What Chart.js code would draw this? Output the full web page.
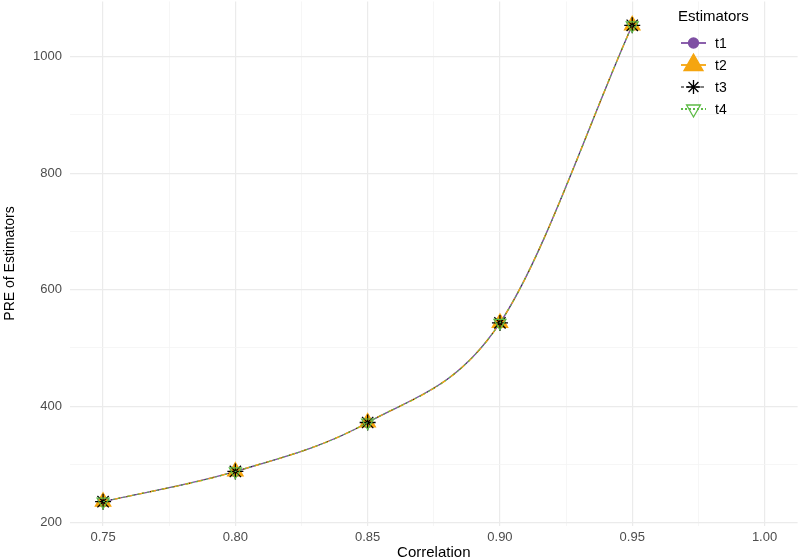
<!DOCTYPE html>
<html>
<head>
<meta charset="utf-8">
<script src="https://cdn.jsdelivr.net/npm/chart.js@4/dist/chart.umd.min.js"></script>
<style>
html,body{margin:0;padding:0;background:#fff;}
#wrap{width:800px;height:560px;position:relative;}
</style>
</head>
<body>
<div id="wrap"><canvas id="c" width="800" height="560"></canvas></div>
<script>
const correlation = [0.75, 0.80, 0.85, 0.90, 0.95];
const t1 = [236, 288, 372, 543, 1054];
const t2 = [236, 288, 372, 543, 1054];
const t3 = [236, 288, 372, 543, 1054];
const t4 = [236, 288, 372, 543, 1054];
const seriesNames = ['t1', 't2', 't3', 't4'];
const xTicks = [0.75, 0.80, 0.85, 0.90, 0.95, 1.00];
const yTicks = [200, 400, 600, 800, 1000];

const FONT = '"Liberation Sans", Arial, Helvetica, sans-serif';
const pts = arr => correlation.map((x, i) => ({x: x, y: arr[i]}));

const styles = [
  {color:'#7E4FA3', point:'circle', radius:5, lr:5, rot:0, fill:'#7E4FA3', dash:[], ldash:[], width:1.4},
  {color:'#F5A50F', point:'triangle', radius:9, lr:11, rot:0, fill:'#F5A50F', dash:[6,6], ldash:[], width:1.4},
  {color:'#000000', point:'star', radius:8, lr:7, rot:0, fill:'rgba(0,0,0,0)', dash:[1,7], ldash:[3,2], width:0.8},
  {color:'#5DBB46', point:'triangle', radius:7, lr:8, rot:180, fill:'rgba(0,0,0,0)', dash:[2,3], ldash:[2,2], width:1.1}
];
const data = [t1, t2, t3, t4];

const datasets = data.map((arr, i) => ({
  label: seriesNames[i],
  data: pts(arr),
  borderColor: styles[i].color,
  backgroundColor: styles[i].fill,
  borderWidth: styles[i].width,
  borderDash: styles[i].dash,
  pointStyle: styles[i].point,
  pointRadius: styles[i].radius,
  pointRotation: styles[i].rot,
  pointBorderColor: styles[i].color,
  pointBackgroundColor: styles[i].fill,
  pointBorderWidth: i === 2 ? 1.3 : 1.2,
  cubicInterpolationMode: 'monotone',
  fill: false,
  clip: false,
  order: 4 - i
}));

const legendPlugin = {
  id: 'ggLegend',
  afterDraw(chart) {
    const ctx = chart.ctx;
    ctx.save();
    ctx.fillStyle = '#000';
    ctx.font = '15px ' + FONT;
    ctx.textAlign = 'left';
    ctx.textBaseline = 'middle';
    ctx.fillText('Estimators', 678, 17);
    const ys = [43, 65, 87, 109];
    styles.forEach((s, i) => {
      const y = ys[i];
      ctx.save();
      ctx.strokeStyle = s.color;
      ctx.lineWidth = i === 2 ? 1 : 1.8;
      ctx.setLineDash(s.ldash);
      ctx.beginPath();
      ctx.moveTo(681, y);
      ctx.lineTo(706, y);
      ctx.stroke();
      ctx.restore();
      ctx.save();
      ctx.strokeStyle = s.color;
      ctx.fillStyle = s.fill;
      ctx.lineWidth = 1.3;
      Chart.helpers.drawPoint(ctx, {pointStyle: s.point, radius: s.lr, rotation: s.rot, borderWidth: 1.3}, 693.5, y);
      ctx.restore();
      ctx.fillStyle = '#000';
      ctx.font = '14px ' + FONT;
      ctx.fillText(seriesNames[i], 715, y + 1);
    });
    ctx.restore();
  }
};

const noPad = function () { return {left: 0, top: 0, right: 0, bottom: 0}; };

new Chart(document.getElementById('c'), {
  type: 'line',
  data: { datasets },
  options: {
    responsive: false,
    animation: false,
    devicePixelRatio: 1,
    layout: { autoPadding: false, padding: { left: 0, right: 2.4, top: 1.4, bottom: 0 } },
    plugins: { legend: { display: false }, tooltip: { enabled: false } },
    scales: {
      x: {
        type: 'linear',
        min: 0.7375,
        max: 1.0125,
        afterFit(scale) { scale.height = 34.4; scale.paddingLeft = 0; scale.paddingRight = 0; scale.getPadding = noPad; },
        afterBuildTicks(scale) {
          const v = [];
          for (let k = 0; k <= 10; k++) v.push(+(0.75 + k * 0.025).toFixed(3));
          scale.ticks = v.map(x => ({value: x}));
        },
        grid: {
          color: ctx => {
            const val = ctx.tick ? ctx.tick.value : 0;
            return xTicks.some(t => Math.abs(t - val) < 1e-6) ? '#EBEBEB' : '#F4F4F4';
          },
          lineWidth: ctx => {
            const val = ctx.tick ? ctx.tick.value : 0;
            return xTicks.some(t => Math.abs(t - val) < 1e-6) ? 1.2 : 0.8;
          },
          drawTicks: false
        },
        border: { display: false },
        ticks: {
          autoSkip: false,
          maxRotation: 0,
          padding: 4,
          color: '#4D4D4D',
          font: { family: FONT, size: 13 },
          callback: v => xTicks.some(t => Math.abs(t - v) < 1e-6) ? v.toFixed(2) : ''
        },
        title: { display: true, text: 'Correlation', color: '#000', font: { family: FONT, size: 15 }, padding: { top: 0, bottom: -2 } }
      },
      y: {
        type: 'linear',
        min: 195,
        max: 1095,
        afterFit(scale) { scale.width = 70; scale.paddingTop = 0; scale.paddingBottom = 0; scale.getPadding = noPad; },
        afterBuildTicks(scale) {
          const v = [];
          for (let k = 200; k <= 1000; k += 100) v.push(k);
          scale.ticks = v.map(x => ({value: x}));
        },
        grid: {
          color: ctx => (ctx.tick && ctx.tick.value % 200 === 0) ? '#EBEBEB' : '#F4F4F4',
          lineWidth: ctx => (ctx.tick && ctx.tick.value % 200 === 0) ? 1.2 : 0.8,
          drawTicks: false
        },
        border: { display: false },
        ticks: {
          autoSkip: false,
          padding: 8,
          color: '#4D4D4D',
          font: { family: FONT, size: 13 },
          callback: v => yTicks.includes(v) ? String(v) : ''
        },
        title: { display: true, text: 'PRE of Estimators', color: '#000', font: { family: FONT, size: 14 }, padding: { top: 2, bottom: 0 } }
      }
    }
  },
  plugins: [legendPlugin]
});
</script>
</body>
</html>
